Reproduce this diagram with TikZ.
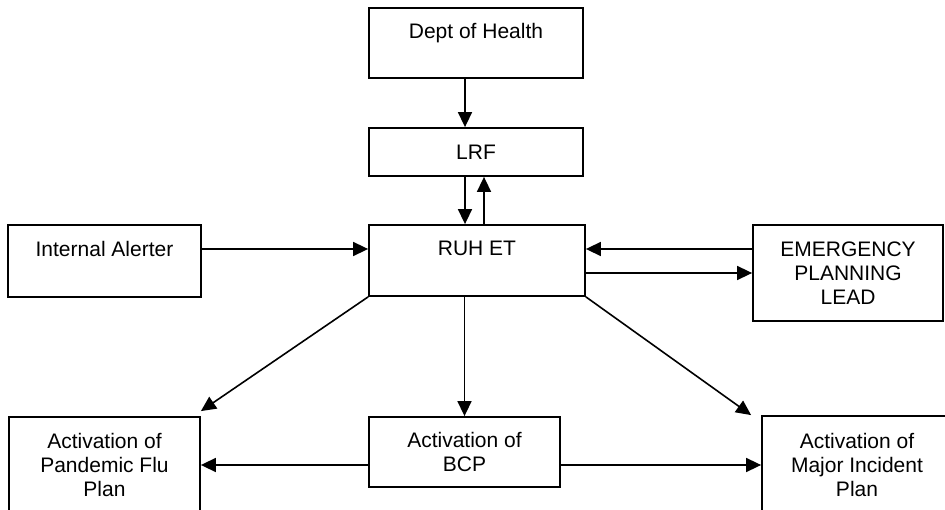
\documentclass[tikz,border=0pt]{standalone}
\usepackage{fontspec}
\setmainfont{Liberation Sans}
\usetikzlibrary{arrows.meta}
\tikzset{blk/.style={draw, line width=1.8pt, align=center, inner sep=0pt, font=\fontsize{21}{24}\selectfont},
	arr/.style={line width=1.6pt, -{Triangle[length=15pt,width=14pt]}}}

\begin{document}
\begin{tikzpicture}[x=1pt,y=-1pt]
		%%%%% START %%%%%
		\useasboundingbox (0, 0) rectangle (945, 510);
		
		\node[blk, minimum width=214pt, minimum height=70pt] (health) at (476, 43) {Dept of Health\\ \mbox{}};
		\node[blk, minimum width=214pt, minimum height=48pt] (lrf) at (476, 152) {LRF};
		\node[blk, minimum width=216pt, minimum height=71pt] (ruh) at (477, 260.5) {RUH ET\\ \mbox{}};
		\node[blk, minimum width=193pt, minimum height=72pt] (alert) at (104.5, 261) {Internal Alerter\\ \mbox{}};
		\node[blk, minimum width=190pt, minimum height=96pt] (epl) at (848, 273) {EMERGENCY\\PLANNING\\LEAD};
		
		\node[blk, minimum width=191pt, minimum height=96pt] (flu) at (104.5, 465) {Activation of\\Pandemic Flu\\Plan};
		\node[blk, minimum width=191pt, minimum height=70pt] (bcp) at (464.5, 452) {Activation of\\BCP};
		\node[blk, minimum width=190pt, minimum height=98pt] (mip) at (857, 465) {Activation of\\Major Incident\\Plan};
		
		\draw[arr] ([xshift=-11pt]health.south) -- ([xshift=-11pt]lrf.north);
		\draw[arr] ([xshift=-11pt]lrf.south) -- ([xshift=-11pt]lrf.south |- ruh.north);
		\draw[arr] ([xshift=8pt]lrf.south |- ruh.north) -- ([xshift=8pt]lrf.south);
		
		\draw[arr] ([yshift=12pt]alert.east) -- ([yshift=12pt]alert.east -| ruh.west);
		\draw[arr] ([yshift=24pt]epl.west) -- ([yshift=24pt]epl.west -| ruh.east);
		\draw[arr] (epl.west -| ruh.east) -- (epl.west);
		
		\draw[arr] (ruh.south west) -- ([yshift=5pt]flu.north east);
		\draw[arr] (ruh.south -| bcp.north) -- (bcp.north);
		\draw[arr] (ruh.south east) -- ([xshift=-10pt]mip.north west);
		
		\draw[arr] (bcp.west |- flu.east) -- (flu.east);
		\draw[arr] (bcp.east |- mip.west) -- (mip.west);
		%%%%% END %%%%%
	\end{tikzpicture}
\end{document}
